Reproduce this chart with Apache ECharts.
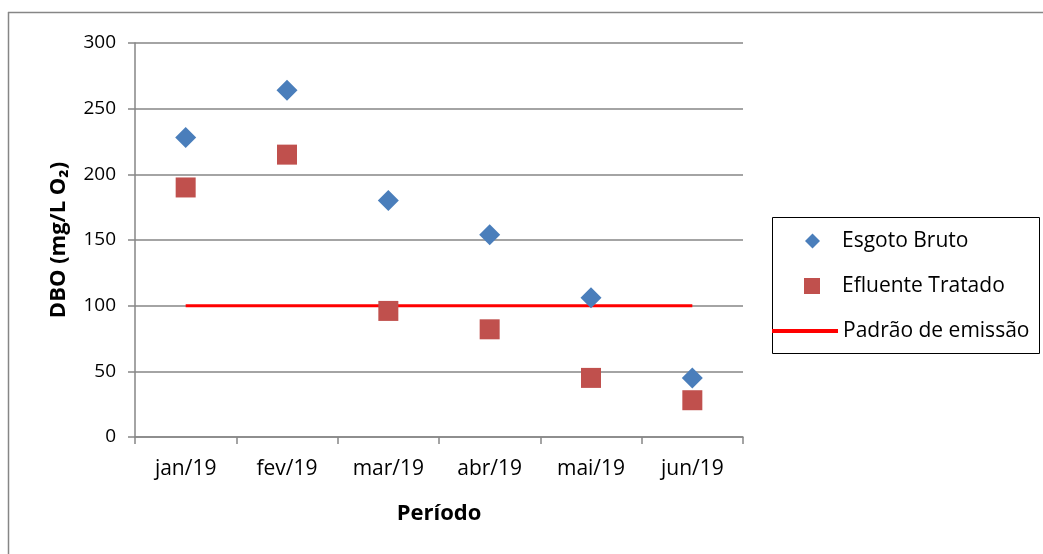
<!DOCTYPE html>
<html>
<head>
<meta charset="utf-8">
<script src="https://cdn.jsdelivr.net/npm/echarts@6/dist/echarts.min.js"></script>
<style>
html,body{margin:0;padding:0;background:#fff;}
#chart{width:1043px;height:554px;}
</style>
</head>
<body>
<div id="chart"></div>
<script>
const categories = ['jan/19','fev/19','mar/19','abr/19','mai/19','jun/19'];
const esgotoBruto = [228, 264, 180, 154, 106, 45];
const efluenteTratado = [190, 215, 96, 82, 45, 28];
const padraoEmissao = [100, 100, 100, 100, 100, 100];
const yTicks = [0, 50, 100, 150, 200, 250, 300];

const chart = echarts.init(document.getElementById('chart'));
const font = '"Open Sans", "Noto Sans", sans-serif';
const legendText = { fontFamily: font, fontSize: 21, lineHeight: 24, color: '#000' };
chart.setOption({
  animation: false,
  backgroundColor: '#fff',
  textStyle: { fontFamily: font },
  grid: { left: 135, right: 300, top: 43, bottom: 117, containLabel: false },
  graphic: [
    { type: 'line', shape: { x1: 8, y1: 12.5, x2: 1043, y2: 12.5 }, style: { stroke: '#868686', lineWidth: 1.5 }, silent: true },
    { type: 'line', shape: { x1: 8.5, y1: 12, x2: 8.5, y2: 554 }, style: { stroke: '#868686', lineWidth: 1.5 }, silent: true },
    { type: 'rect', shape: { x: 772.5, y: 217.5, width: 267, height: 136 }, style: { fill: 'none', stroke: '#000', lineWidth: 1 }, silent: true }
  ],
  legend: [
    {
      left: 805, top: 229, padding: 0,
      itemWidth: 15, itemHeight: 15,
      icon: 'diamond',
      itemStyle: { opacity: 1 },
      textStyle: Object.assign({}, legendText, { padding: [0, 0, 0, 17] }),
      data: ['Esgoto Bruto']
    },
    {
      left: 804, top: 274, padding: 0,
      itemWidth: 16, itemHeight: 16,
      icon: 'rect',
      itemStyle: { opacity: 1 },
      textStyle: Object.assign({}, legendText, { padding: [0, 0, 0, 17] }),
      data: ['Efluente Tratado']
    },
    {
      left: 772, top: 319, padding: 0,
      itemWidth: 66, itemHeight: 4,
      icon: 'rect',
      textStyle: Object.assign({}, legendText, { padding: [0, 0, 0, 0] }),
      data: ['Padrão de emissão']
    }
  ],
  xAxis: {
    type: 'category',
    data: categories,
    boundaryGap: true,
    name: 'Período',
    nameLocation: 'middle',
    nameGap: 66,
    nameTextStyle: { fontFamily: font, fontSize: 22, fontWeight: 'bold', color: '#000' },
    axisLine: { lineStyle: { color: '#868686', width: 1.5 } },
    axisTick: { show: true, length: 7, alignWithLabel: false, lineStyle: { color: '#868686', width: 1.5 } },
    axisLabel: { fontFamily: font, fontSize: 21, color: '#000', margin: 22 },
    splitLine: { show: false }
  },
  yAxis: {
    type: 'value',
    min: 0, max: 300, interval: 50,
    name: 'DBO (mg/L O₂)',
    nameLocation: 'middle',
    nameGap: 65,
    nameRotate: 90,
    nameTextStyle: { fontFamily: font, fontSize: 22, fontWeight: 'bold', color: '#000' },
    axisLine: { show: true, lineStyle: { color: '#868686', width: 1.5 } },
    axisTick: { show: true, length: 7, lineStyle: { color: '#868686', width: 1.5 } },
    axisLabel: { fontFamily: font, fontSize: 19, color: '#000', margin: 19,
      formatter: v => yTicks.includes(v) ? String(v) : '' },
    splitLine: { show: true, lineStyle: { color: '#868686', width: 1.5 } }
  },
  series: [
    {
      name: 'Esgoto Bruto', type: 'scatter', data: esgotoBruto,
      symbol: 'diamond', symbolSize: [21, 21],
      itemStyle: { color: '#4a7ebb', opacity: 1 }, z: 3
    },
    {
      name: 'Efluente Tratado', type: 'scatter', data: efluenteTratado,
      symbol: 'rect', symbolSize: [20, 20],
      itemStyle: { color: '#c0504d', opacity: 1 }, z: 3
    },
    {
      name: 'Padrão de emissão', type: 'line', data: padraoEmissao,
      symbol: 'none', showSymbol: false,
      lineStyle: { color: '#ff0000', width: 3 },
      itemStyle: { color: '#ff0000' }, z: 2
    }
  ]
});
</script>
</body>
</html>
